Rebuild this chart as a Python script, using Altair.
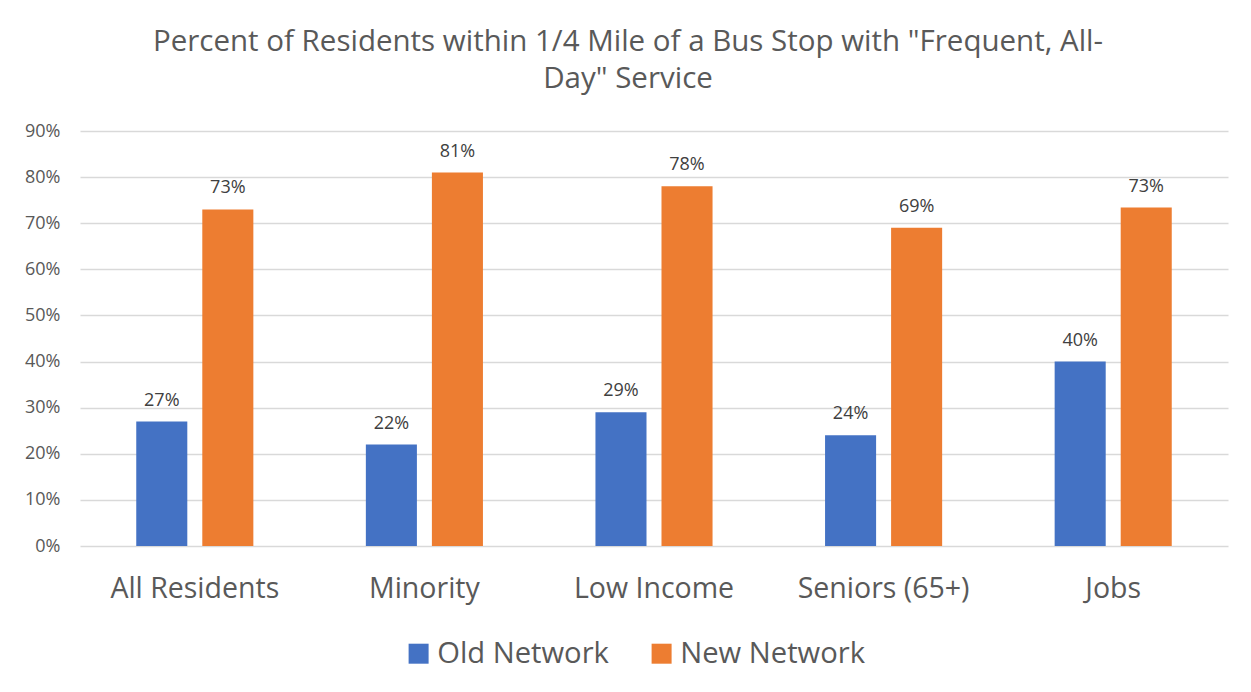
import altair as alt
import pandas as pd

categories = ["All Residents", "Minority", "Low Income", "Seniors (65+)", "Jobs"]
old_network = [27, 22, 29, 24, 40]
new_network = [73, 81, 78, 69, 73.4]
series = ["Old Network", "New Network"]
colors = ["#4472C4", "#ED7D31"]

rows = []
for c, o, n in zip(categories, old_network, new_network):
    rows.append({"category": c, "series": series[0], "value": o / 100})
    rows.append({"category": c, "series": series[1], "value": n / 100})
df = pd.DataFrame(rows)

FONT = "Open Sans"

x = alt.X("category:N", sort=categories, title=None,
          scale=alt.Scale(paddingInner=0.49, paddingOuter=0.245),
          axis=alt.Axis(labelAngle=0, labelFontSize=28.5, labelColor="#595959",
                        labelPadding=28, ticks=False, domain=False, labelFont=FONT,
                        labelLimit=400, grid=False))
xoff = alt.XOffset("series:N", sort=series,
                   scale=alt.Scale(paddingInner=0.227, paddingOuter=0))

base = alt.Chart(df).encode(x=x, xOffset=xoff)

bars = base.mark_bar().encode(
    y=alt.Y("value:Q", title=None,
            scale=alt.Scale(domain=[0, 0.9]),
            axis=alt.Axis(format=".0%", values=[i / 10 for i in range(10)],
                          labelFontSize=18, labelColor="#595959", labelPadding=20,
                          ticks=False, domain=False, gridColor="#D9D9D9",
                          gridWidth=1.5, labelFont=FONT)),
    color=alt.Color("series:N", sort=series,
                    scale=alt.Scale(domain=series, range=colors),
                    legend=alt.Legend(title=None, orient="none", direction="horizontal",
                                      legendX=324, legendY=508,
                                      symbolType="square", symbolSize=400,
                                      symbolStrokeWidth=0,
                                      labelFontSize=29.2, labelColor="#595959",
                                      labelFont=FONT, columnPadding=38,
                                      labelOffset=4, labelLimit=400)),
)

labels = base.mark_text(baseline="alphabetic", dy=-16, fontSize=18,
                        color="#404040", font=FONT).encode(
    y="value:Q",
    text=alt.Text("value:Q", format=".0%"),
)

chart = (bars + labels).properties(
    width=1148, height=415,
    background="white",
    padding={"left": 72, "top": 123, "right": 15, "bottom": 138},
    autosize=alt.AutoSizeParams(type="none"),
    title=alt.Title(["Percent of Residents within 1/4 Mile of a Bus Stop with \"Frequent, All-",
                     "Day\" Service"],
                    fontSize=29.5, font=FONT, fontWeight="normal", color="#595959",
                    offset=28, dx=-26, lineHeight=37),
).configure_view(strokeWidth=0)

chart.save("out.html", embed_options={"renderer": "svg", "actions": False})
